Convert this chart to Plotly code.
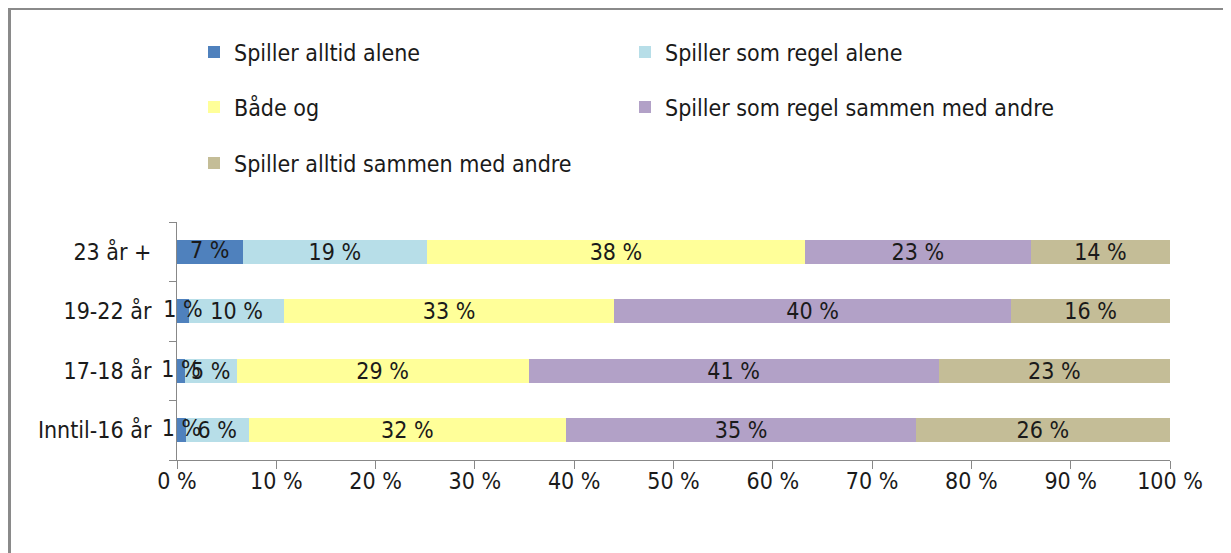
import plotly.graph_objects as go

categories = ["Inntil-16 år", "17-18 år", "19-22 år", "23 år +"]
series_names = [
    "Spiller alltid alene",
    "Spiller som regel alene",
    "Både og",
    "Spiller som regel sammen med andre",
    "Spiller alltid sammen med andre",
]
alltid_alene = [0.9, 0.8, 1.2, 6.6]
som_regel_alene = [6.3, 5.2, 9.6, 18.6]
baade_og = [32.0, 29.4, 33.2, 38.0]
som_regel_sammen = [35.2, 41.3, 40.0, 22.8]
alltid_sammen = [25.6, 23.3, 16.0, 14.0]
colors = ["#4F81BD", "#B7DEE8", "#FFFF99", "#B2A1C7", "#C4BD97"]
tick_vals = [0, 10, 20, 30, 40, 50, 60, 70, 80, 90, 100]

series = [alltid_alene, som_regel_alene, baade_og, som_regel_sammen, alltid_sammen]
legend_ids = ["legend", "legend", "legend2", "legend2", "legend3"]

FONT = "DejaVu Sans Condensed, Liberation Sans Narrow, sans-serif"
FS = 23
TXT = "#1a1a1a"

def pct(v):
    return f"{v:.0f} %"

fig = go.Figure()
for i, (name, vals, col, lg) in enumerate(zip(series_names, series, colors, legend_ids)):
    fig.add_trace(go.Bar(
        y=categories, x=vals, name=name, orientation="h",
        marker=dict(color=col, line=dict(width=0)),
        # first series labels are drawn on top (below), as they overflow thin segments
        text=None if i == 0 else [pct(v) for v in vals],
        textposition="inside", insidetextanchor="middle", textangle=0,
        constraintext="none",
        textfont=dict(family=FONT, size=FS, color=TXT),
        legend=lg, hoverinfo="x+name",
    ))

# labels of the first (thin) series, centred on its segments, drawn above all bars
fig.add_trace(go.Scatter(
    y=categories, x=[v / 2 for v in alltid_alene], mode="text",
    text=[pct(v) for v in alltid_alene], textposition="middle center",
    textfont=dict(family=FONT, size=FS, color=TXT),
    showlegend=False, hoverinfo="skip", cliponaxis=False,
))

# page body adds an 8px offset; positions below are in figure pixels
OFF = 8
W, H = 1231, 553
L, R, T, B = 177 - OFF, 1231 - (1170 - OFF), 222 - OFF, 553 - (460 - OFF)
pw, ph = W - L - R, H - T - B

def px_x(p):
    return (p - L) / pw

def px_y(p):
    return (H - B - p) / ph

legend_common = dict(
    orientation="h", xref="container", yref="container",
    xanchor="left", yanchor="middle", traceorder="normal",
    font=dict(family=FONT, size=FS, color=TXT),
    entrywidth=386, entrywidthmode="pixels",
    bgcolor="rgba(0,0,0,0)", itemclick=False,
)
LX = (194 - OFF) / W

fig.update_layout(
    width=W, height=H,
    margin=dict(l=L, r=R, t=T, b=B, pad=0),
    barmode="stack", bargap=0.59,
    plot_bgcolor="white", paper_bgcolor="white",
    uniformtext=dict(mode=False),
    font=dict(family=FONT, size=FS, color=TXT),
    showlegend=True,
    legend=dict(x=LX, y=1 - (52 - OFF) / H, **legend_common),
    legend2=dict(x=LX, y=1 - (107 - OFF) / H, **legend_common),
    legend3=dict(x=LX, y=1 - (163 - OFF) / H, **legend_common),
    xaxis=dict(
        range=[0, 100], tickvals=tick_vals,
        ticktext=[pct(v) for v in tick_vals],
        showgrid=False, zeroline=False,
        showline=True, linecolor="#888888", linewidth=1,
        ticks="outside", ticklen=8, tickcolor="#888888",
        tickfont=dict(family=FONT, size=FS, color=TXT),
        ticklabelstandoff=-8,
        fixedrange=True,
    ),
    yaxis=dict(
        categoryorder="array", categoryarray=categories,
        showgrid=False, zeroline=False,
        showline=True, linecolor="#888888", linewidth=1,
        ticks="outside", ticklen=7, tickcolor="#888888",
        tickson="boundaries",
        tickfont=dict(family=FONT, size=FS, color=TXT),
        ticklabelstandoff=20,
        fixedrange=True,
    ),
    shapes=[
        dict(type="line", xref="paper", yref="paper",
             x0=px_x(1.5), x1=px_x(1.5), y0=px_y(0), y1=px_y(H + 5),
             line=dict(color="#8a8a8a", width=3)),
        dict(type="line", xref="paper", yref="paper",
             x0=px_x(0), x1=px_x(1223), y0=px_y(1), y1=px_y(1),
             line=dict(color="#8a8a8a", width=2)),
        dict(type="line", xref="paper", yref="paper",
             x0=px_x(1222), x1=px_x(1222), y0=px_y(1), y1=px_y(H + 5),
             line=dict(color="#a8a8a8", width=1)),
    ],
)
fig.write_html("out.html")
